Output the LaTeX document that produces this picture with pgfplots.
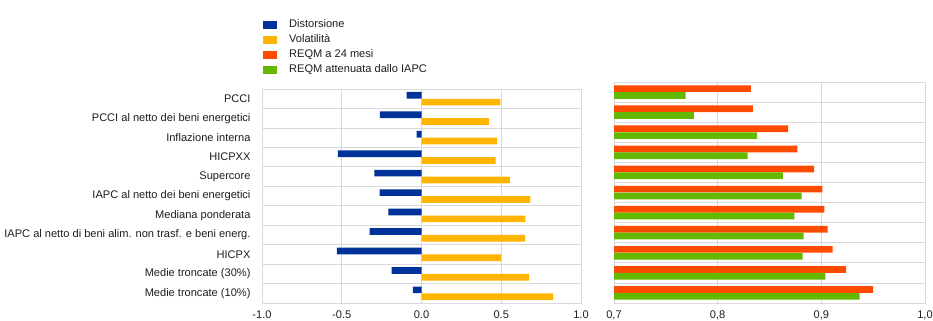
\documentclass[border=0pt]{standalone}
\usepackage{pgfplots}
\pgfplotsset{compat=1.18}
\usepackage{fontspec}
\setmainfont{Liberation Sans}

\definecolor{ecbblue}{RGB}{0,50,153}
\definecolor{ecbyellow}{RGB}{255,180,0}
\definecolor{ecborange}{RGB}{255,75,0}
\definecolor{ecbgreen}{RGB}{101,184,0}
\definecolor{gridgray}{RGB}{217,217,217}
\definecolor{txt}{RGB}{30,30,30}

\newcommand{\lblfont}{\fontsize{11.1}{13}\selectfont}

\pgfplotsset{
  common/.style={
    xbar,
    scale only axis,
    y dir=reverse,
    ymin=-0.5, ymax=10.5,
    ytick={0,...,10},
    minor ytick={0.5,1.5,...,9.5},
    yminorgrids=true,
    xmajorgrids=true,
    major tick length=0pt,
    minor tick length=0pt,
    grid style={draw=gridgray, line width=0.8bp},
    minor grid style={draw=gridgray, line width=0.8bp},
    axis line style={draw=gridgray, line width=0.8bp},
    bar width=6.7bp,
    tick label style={font=\lblfont, text=txt},
    xticklabel style={yshift=-4.5bp},
    /pgf/number format/assume math mode=true,
    /pgf/number format/.cd, fixed, fixed zerofill, precision=1,
  },
}

\begin{document}
\begin{tikzpicture}
\useasboundingbox (0,0) rectangle (933bp,321bp);

\begin{axis}[
  common,
  at={(262bp,18bp)}, anchor=south west,
  width=319bp, height=214bp,
  xmin=-1, xmax=1,
  xtick={-1,-0.5,0,0.5,1},
  yticklabels={PCCI, PCCI al netto dei beni energetici, Inflazione interna, HICPXX, Supercore, IAPC al netto dei beni energetici, Mediana ponderata, IAPC al netto di beni alim. non trasf. e beni energ., HICPX, Medie troncate (30\%), Medie troncate (10\%)},
  yticklabel style={xshift=-8bp},
  legend cell align=left,
  legend image code/.code={\fill[#1, draw=none] (0bp,-4bp) rectangle (14bp,4bp);},
  legend style={at={(0,1)}, anchor=south west, xshift=1bp, yshift=12.5bp,
    draw=none, fill=none, inner sep=0pt, row sep=2.5bp,
    font=\lblfont,
    nodes={inner sep=1bp, text height=8bp, text depth=2.5bp, text=txt},
    /tikz/every odd column/.append style={column sep=11bp}},
]
\addplot[fill=ecbblue, draw=none, bar shift=3.4bp] coordinates {
  (-0.094,0) (-0.261,1) (-0.031,2) (-0.525,3) (-0.295,4) (-0.263,5)
  (-0.207,6) (-0.326,7) (-0.531,8) (-0.188,9) (-0.054,10)
};
\addlegendentry{Distorsione}
\addplot[fill=ecbyellow, draw=none, bar shift=-3.4bp] coordinates {
  (0.495,0) (0.422,1) (0.474,2) (0.464,3) (0.554,4) (0.683,5)
  (0.652,6) (0.650,7) (0.497,8) (0.675,9) (0.825,10)
};
\addlegendentry{Volatilità}
\addlegendimage{fill=ecborange}
\addlegendentry{REQM a 24 mesi}
\addlegendimage{fill=ecbgreen}
\addlegendentry{REQM attenuata dallo IAPC}
\end{axis}

\begin{axis}[
  common,
  at={(614bp,18bp)}, anchor=south west,
  width=311bp, height=221bp,
  xmin=0.7, xmax=1.0,
  xtick={0.7,0.8,0.9,1.0},
  yticklabels={},
  /pgf/number format/use comma,
]
\addplot[fill=ecborange, draw=none, bar shift=3.4bp] coordinates {
  (0.832,0) (0.834,1) (0.868,2) (0.877,3) (0.893,4) (0.901,5)
  (0.903,6) (0.906,7) (0.911,8) (0.924,9) (0.950,10)
};
\addplot[fill=ecbgreen, draw=none, bar shift=-3.4bp] coordinates {
  (0.769,0) (0.777,1) (0.838,2) (0.829,3) (0.863,4) (0.881,5)
  (0.874,6) (0.883,7) (0.882,8) (0.904,9) (0.937,10)
};
\end{axis}
\end{tikzpicture}
\end{document}
